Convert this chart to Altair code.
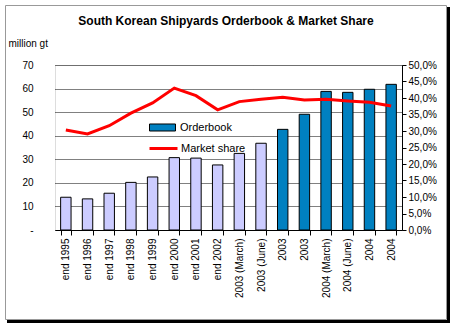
import json
import altair as alt
import pandas as pd

TITLE = "South Korean Shipyards Orderbook & Market Share"
UNIT = "million gt"

labels = ["end 1995", "end 1996", "end 1997", "end 1998", "end 1999", "end 2000",
          "end 2001", "end 2002", "2003 (March)", "2003 (June)", "2003", "2003",
          "2004 (March)", "2004 (June)", "2004", "2004"]
orderbook = [13.9, 13.2, 15.6, 20.2, 22.5, 30.7, 30.5, 27.6, 32.5, 36.8,
             42.7, 49.1, 58.8, 58.4, 59.7, 61.8]
share = [0.303, 0.291, 0.316, 0.354, 0.385, 0.430, 0.407, 0.364, 0.389, 0.396,
         0.402, 0.394, 0.396, 0.391, 0.387, 0.376]
group = ["early"] * 10 + ["Orderbook"] * 6
series = ["Market share"] * 16

df = pd.DataFrame({
    "idx": list(range(len(labels))),
    "label": labels,
    "orderbook": orderbook,
    "share": share,
    "grp": group,
    "ser": series,
})

FONT = "Liberation Sans"
label_expr = json.dumps(labels) + "[datum.value]"

x_enc = alt.X(
    "idx:O",
    scale=alt.Scale(paddingInner=0.52, paddingOuter=0.26),
    axis=alt.Axis(
        title=None, labelExpr=label_expr, labelAngle=270, tickBand="extent",
        tickSize=5, tickColor="black", domainColor="black", labelPadding=3,
        labelFontSize=10, labelColor="black", labelFont=FONT,
    ),
)

base = alt.Chart(df)

bars = base.mark_bar(stroke="black", strokeWidth=1).encode(
    x=x_enc,
    y=alt.Y(
        "orderbook:Q",
        scale=alt.Scale(domain=[0, 70]),
        axis=alt.Axis(
            values=list(range(0, 80, 10)), grid=True, gridDash=[1, 1],
            gridColor="black", gridOpacity=1, domain=False, ticks=False,
            labelPadding=22, labelExpr="datum.value == 0 ? '-' : datum.label",
            labelFontSize=10, labelColor="black", labelFont=FONT,
            title=UNIT, titleAngle=0, titleX=-47, titleY=-19, titleAlign="left",
            titleBaseline="alphabetic", titleFontWeight="normal", titleFontSize=10,
            titleFont=FONT, titleColor="black",
        ),
    ),
    fill=alt.Fill(
        "grp:N",
        scale=alt.Scale(domain=["Orderbook", "early"], range=["#0080C0", "#CCCCFF"]),
        legend=alt.Legend(
            values=["Orderbook"], orient="none", legendX=94, legendY=49, title=None,
            padding=0, symbolType="M-1,-0.27H1V0.27H-1Z", symbolSize=676,
            symbolStrokeColor="black", symbolStrokeWidth=1, labelOffset=4,
            labelFontSize=11, labelFont=FONT, labelColor="black",
        ),
    ),
)

line = base.mark_line(strokeWidth=3).encode(
    x=x_enc,
    y=alt.Y(
        "share:Q",
        scale=alt.Scale(domain=[0, 0.5]),
        axis=alt.Axis(
            orient="right", values=[i * 0.05 for i in range(11)], grid=False,
            domainColor="black", tickColor="black", tickSize=4, labelPadding=2,
            labelExpr="replace(format(datum.value, '.1%'), '.', ',')",
            labelFontSize=10, labelColor="black", labelFont=FONT, title="",
        ),
    ),
    stroke=alt.Stroke(
        "ser:N",
        scale=alt.Scale(domain=["Market share"], range=["#FF0000"]),
        legend=alt.Legend(
            orient="none", legendX=93, legendY=68, title=None, padding=0,
            symbolType="stroke", symbolSize=784, symbolStrokeWidth=3,
            labelOffset=2, labelFontSize=11, labelFont=FONT, labelColor="black",
        ),
    ),
)

title_df = pd.DataFrame({"t": [TITLE]})
title = alt.Chart(title_df).mark_text(
    font=FONT, fontSize=12, fontWeight="bold", align="center",
    baseline="alphabetic", color="black",
).encode(text="t:N", x=alt.value(171), y=alt.value(-40))

deco_df = pd.DataFrame({"d": [0]})
border = alt.Chart(deco_df).mark_rect(
    fillOpacity=0, stroke="#999999", strokeWidth=1
).encode(x=alt.value(-49.5), x2=alt.value(391.5), y=alt.value(-59.5), y2=alt.value(254.5))
shadow_r = alt.Chart(deco_df).mark_rule(color="black", strokeWidth=3).encode(
    x=alt.value(393.5), y=alt.value(-58), y2=alt.value(257.5))
shadow_b = alt.Chart(deco_df).mark_rule(color="black", strokeWidth=3).encode(
    y=alt.value(256.5), x=alt.value(-48), x2=alt.value(395))

chart = alt.layer(border, shadow_r, shadow_b, bars, line, title).resolve_scale(
    y="independent"
).properties(
    width=347, height=165,
    autosize=alt.AutoSizeParams(type="none"),
    padding={"left": 55, "top": 65, "right": 52, "bottom": 96},
    background="white",
).configure_view(strokeWidth=0).configure(font=FONT)

chart.save("out.html", embed_options={"renderer": "svg", "actions": False})
